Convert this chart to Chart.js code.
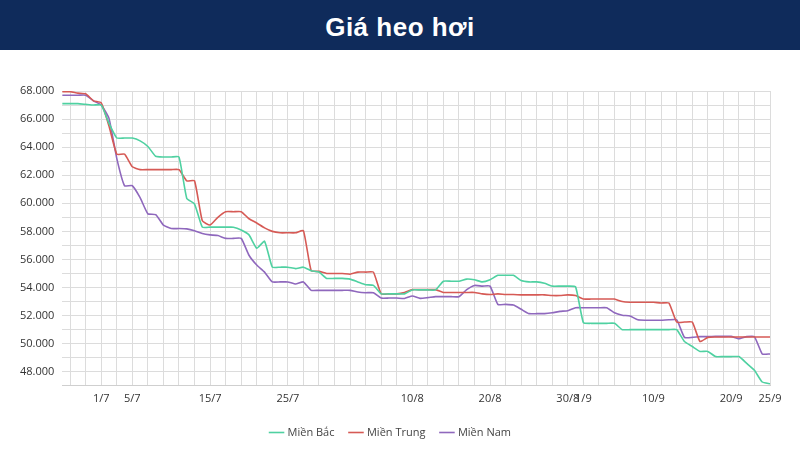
<!DOCTYPE html>
<html>
<head>
<meta charset="utf-8">
<script src="https://cdn.jsdelivr.net/npm/chart.js@4"></script>
<style>
  html, body { margin: 0; padding: 0; background: #fff; }
  .banner { height: 50px; background: #0f2b5b; color: #fff; font-family: "Liberation Sans", Arial, sans-serif;
    font-weight: bold; font-size: 26px; text-align: center; line-height: 54px; letter-spacing: 0.5px; }
  .wrap { position: relative; width: 800px; height: 410px; }
</style>
</head>
<body>
<div class="banner">Giá heo hơi</div>
<div class="wrap"><canvas id="c"></canvas></div>
<script>
// ngày 26/6 -> 25/9 (92 điểm)
var ngay = [];
(function () {
  var d = new Date(2023, 5, 26);
  for (var i = 0; i < 92; i++) {
    ngay.push(d.getDate() + "/" + (d.getMonth() + 1));
    d.setDate(d.getDate() + 1);
  }
})();
var nhanHienThi = ["1/7", "5/7", "15/7", "25/7", "10/8", "20/8", "30/8", "1/9", "10/9", "20/9", "25/9"];

var mienBac = [
  67100, 67100, 67100, 67050, 67000, 67000, 65700, 64650, 64650, 64650,
  64450, 64050, 63350, 63300, 63300, 63300, 60350, 59950, 58300, 58300,
  58300, 58300, 58300, 58100, 57750, 56800, 57300, 55450, 55450, 55450,
  55350, 55450, 55200, 55100, 54650, 54650, 54650, 54600, 54400, 54200,
  54150, 53550, 53550, 53550, 53550, 53830, 53830, 53830, 53830, 54450,
  54450, 54450, 54600, 54550, 54400, 54550, 54870, 54870, 54870, 54500,
  54400, 54400, 54300, 54100, 54100, 54100, 54050, 51500, 51450, 51450,
  51450, 51450, 51000, 51000, 51000, 51000, 51000, 51000, 51000, 51000,
  50150, 49800, 49450, 49450, 49080, 49080, 49080, 49080, 48600, 48100,
  47270, 47150
];
var mienTrung = [
  67950, 67950, 67850, 67800, 67300, 67150, 65500, 63500, 63500, 62600,
  62400, 62400, 62400, 62400, 62400, 62400, 61600, 61600, 58750, 58450,
  59000, 59400, 59400, 59400, 58900, 58600, 58250, 58000, 57900, 57900,
  57900, 58050, 55200, 55150, 55000, 55000, 55000, 54950, 55100, 55100,
  55100, 53550, 53550, 53550, 53650, 53850, 53850, 53850, 53850, 53650,
  53650, 53650, 53650, 53650, 53550, 53500, 53550, 53500, 53500, 53480,
  53480, 53480, 53480, 53430, 53430, 53480, 53430, 53180, 53180, 53180,
  53180, 53180, 53000, 52950, 52950, 52950, 52950, 52900, 52900, 51540,
  51540, 51540, 50150, 50450, 50480, 50480, 50480, 50480, 50480, 50480,
  50480, 50480
];
var mienNam = [
  67700, 67700, 67700, 67700, 67300, 67000, 66050, 63200, 61250, 61250,
  60400, 59250, 59200, 58450, 58200, 58200, 58180, 58050, 57850, 57750,
  57700, 57500, 57500, 57500, 56300, 55600, 55100, 54400, 54400, 54400,
  54250, 54400, 53800, 53800, 53800, 53800, 53800, 53800, 53680, 53630,
  53630, 53250, 53250, 53250, 53220, 53400, 53230, 53280, 53350, 53350,
  53350, 53350, 53850, 54150, 54100, 54100, 52800, 52800, 52750, 52450,
  52140, 52140, 52140, 52200, 52300, 52350, 52560, 52560, 52560, 52560,
  52560, 52200, 52030, 51970, 51700, 51670, 51670, 51670, 51700, 51700,
  50450, 50450, 50500, 50500, 50520, 50520, 50520, 50350, 50500, 50500,
  49270, 49270
];

var phong = "'Open Sans', sans-serif";
function serie(nome, dados, cor) {
  return { label: nome, data: dados, borderColor: cor, backgroundColor: cor,
    borderWidth: 1.6, pointRadius: 0, tension: 0.15 };
}
function nghin(v) { return Math.floor(v / 1000) + ".000"; }

new Chart(document.getElementById("c"), {
  type: "line",
  data: {
    labels: ngay,
    datasets: [
      serie("Miền Bắc", mienBac, "#4fd1a1"),
      serie("Miền Trung", mienTrung, "#d65a55"),
      serie("Miền Nam", mienNam, "#8f68bd")
    ]
  },
  options: {
    responsive: true, maintainAspectRatio: false, animation: false,
    layout: { padding: { left: 12, right: 30, top: 41, bottom: 12 } },
    scales: {
      x: {
        offset: false,
        grid: { color: function (c) { return c.index % 2 === 1 ? "#dcdcdc" : "rgba(0,0,0,0)"; }, drawTicks: false },
        border: { color: "#cfcfcf" },
        ticks: {
          autoSkip: false, maxRotation: 0, padding: 6, color: "#333",
          font: { family: phong, size: 11 },
          callback: function (v, i) { return nhanHienThi.indexOf(ngay[i]) >= 0 ? ngay[i] : ""; }
        }
      },
      y: {
        min: 47000, max: 68000,
        grid: { color: "#dcdcdc", drawTicks: false },
        border: { display: false },
        ticks: {
          stepSize: 1000, autoSkip: false, padding: 8, color: "#333", font: { family: phong, size: 11 },
          callback: function (v) { return Math.round(v) % 2000 === 0 ? nghin(v) : ""; }
        }
      }
    },
    plugins: {
      legend: {
        position: "bottom",
        labels: { usePointStyle: true, pointStyle: "line", boxWidth: 38, padding: 16,
          color: "#444", font: { family: phong, size: 11 } }
      },
      tooltip: { enabled: false }
    }
  }
});
</script>
</body>
</html>
